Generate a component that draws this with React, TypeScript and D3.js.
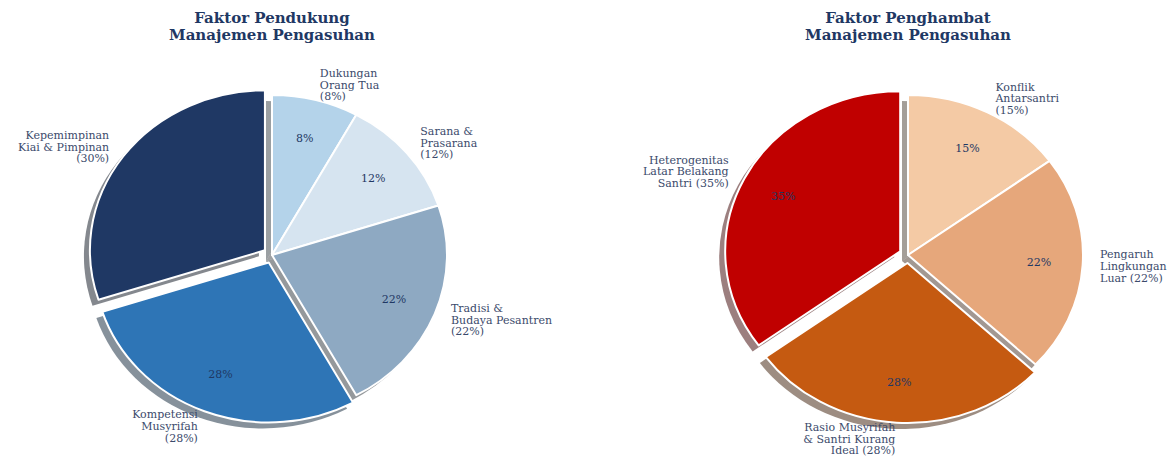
import React from "react";
import * as d3 from "d3";

const leftTitle = ["Faktor Pendukung", "Manajemen Pengasuhan"];
const leftLabels = [
  ["Dukungan", "Orang Tua", "(8%)"],
  ["Sarana &", "Prasarana", "(12%)"],
  ["Tradisi &", "Budaya Pesantren", "(22%)"],
  ["Kompetensi", "Musyrifah", "(28%)"],
  ["Kepemimpinan", "Kiai & Pimpinan", "(30%)"],
];
const leftValues = [8, 12, 22, 28, 30];
const leftExplode = [0, 0, 0, 0.05, 0.05];
const leftColors = ["#b4d3ea", "#d6e4f0", "#8ea9c2", "#2e75b6", "#1f3864"];

const rightTitle = ["Faktor Penghambat", "Manajemen Pengasuhan"];
const rightLabels = [
  ["Konflik", "Antarsantri", "(15%)"],
  ["Pengaruh", "Lingkungan", "Luar (22%)"],
  ["Rasio Musyrifah", "& Santri Kurang", "Ideal (28%)"],
  ["Heterogenitas", "Latar Belakang", "Santri (35%)"],
];
const rightValues = [15, 22, 28, 35];
const rightExplode = [0, 0, 0.05, 0.05];
const rightColors = ["#f4caa5", "#e6a77b", "#c55a11", "#c00000"];

const W = 1170;
const H = 457;
const RX = 175;
const RY = 160;
const FONT = "'DejaVu Serif', serif";
const TEXT_COLOR = "#3b4a6b";
const TITLE_COLOR = "#1f3864";
const PCT_COLOR = "#1f3864";
const SHADOW_DX = -6;
const SHADOW_DY = 6;

function shade(c: string) {
  const col = d3.rgb(c);
  return d3.rgb(col.r * 0.3, col.g * 0.3, col.b * 0.3).formatHex();
}

type PieProps = {
  cx: number;
  cy: number;
  title: string[];
  labels: string[][];
  values: number[];
  explode: number[];
  colors: string[];
};

function Pie({ cx, cy, title, labels, values, explode, colors }: PieProps) {
  const pie = d3.pie<number>().sort(null).startAngle(0).endAngle(2 * Math.PI);
  const arcs = pie(values);
  const arc = d3.arc<d3.PieArcDatum<number>>().innerRadius(0).outerRadius(RX);
  const sy = RY / RX;
  const total = d3.sum(values);
  const lineH = 11.6;

  const items = arcs.map((a, i) => {
    const mid = (a.startAngle + a.endAngle) / 2;
    const ux = Math.sin(mid);
    const uy = -Math.cos(mid);
    const ex = explode[i];
    return { a, i, ux, uy, ex, off: [ex * RX * ux, ex * RX * uy] };
  });

  return (
    <g>
      <text
        x={cx}
        y={18}
        textAnchor="middle"
        fontFamily={FONT}
        fontWeight="bold"
        fontSize={15}
        fill={TITLE_COLOR}
        dominantBaseline="central"
      >
        {title.map((t, k) => (
          <tspan key={k} x={cx} dy={k === 0 ? 0 : 17}>
            {t}
          </tspan>
        ))}
      </text>
      <g transform={`translate(${cx + SHADOW_DX},${cy + SHADOW_DY}) scale(1,${sy})`}>
        {items.map(({ a, i, off }) => (
          <path
            key={"s" + i}
            d={arc(a) || ""}
            transform={`translate(${off[0]},${off[1]})`}
            fill={shade(colors[i])}
            fillOpacity={0.5}
            stroke="none"
          />
        ))}
      </g>
      <g transform={`translate(${cx},${cy}) scale(1,${sy})`}>
        {items.map(({ a, i, off }) => (
          <path
            key={"w" + i}
            d={arc(a) || ""}
            transform={`translate(${off[0]},${off[1]})`}
            fill={colors[i]}
            stroke="#ffffff"
            strokeWidth={2}
            strokeLinejoin="round"
            vectorEffect="non-scaling-stroke"
          />
        ))}
      </g>
      {items.map(({ a, i, ux, uy, ex }) => {
        const lx = cx + (ex + 1.1) * RX * ux;
        const ly = cy + (ex + 1.1) * RY * uy;
        const anchor = ux >= 0 ? "start" : "end";
        const lines = labels[i];
        const y0 = ly - ((lines.length - 1) / 2) * lineH;
        const px = cx + (ex + 0.75) * RX * ux;
        const py = cy + (ex + 0.75) * RY * uy;
        return (
          <g key={"t" + i}>
            <text
              fontFamily={FONT}
              fontSize={11}
              fill={TEXT_COLOR}
              textAnchor={anchor}
              dominantBaseline="central"
            >
              {lines.map((t, k) => (
                <tspan key={k} x={lx} y={y0 + k * lineH}>
                  {t}
                </tspan>
              ))}
            </text>
            <text
              x={px}
              y={py}
              fontFamily={FONT}
              fontSize={11}
              fill={PCT_COLOR}
              textAnchor="middle"
              dominantBaseline="central"
            >
              {`${Math.round((a.data / total) * 100)}%`}
            </text>
          </g>
        );
      })}
    </g>
  );
}

export default function App() {
  return (
    <svg
      width={W}
      height={H}
      style={{ position: "absolute", left: 0, top: 0, background: "#ffffff" }}
    >
      <rect x={0} y={0} width={W} height={H} fill="#ffffff" />
      <Pie
        cx={272}
        cy={255}
        title={leftTitle}
        labels={leftLabels}
        values={leftValues}
        explode={leftExplode}
        colors={leftColors}
      />
      <Pie
        cx={908}
        cy={255}
        title={rightTitle}
        labels={rightLabels}
        values={rightValues}
        explode={rightExplode}
        colors={rightColors}
      />
    </svg>
  );
}
